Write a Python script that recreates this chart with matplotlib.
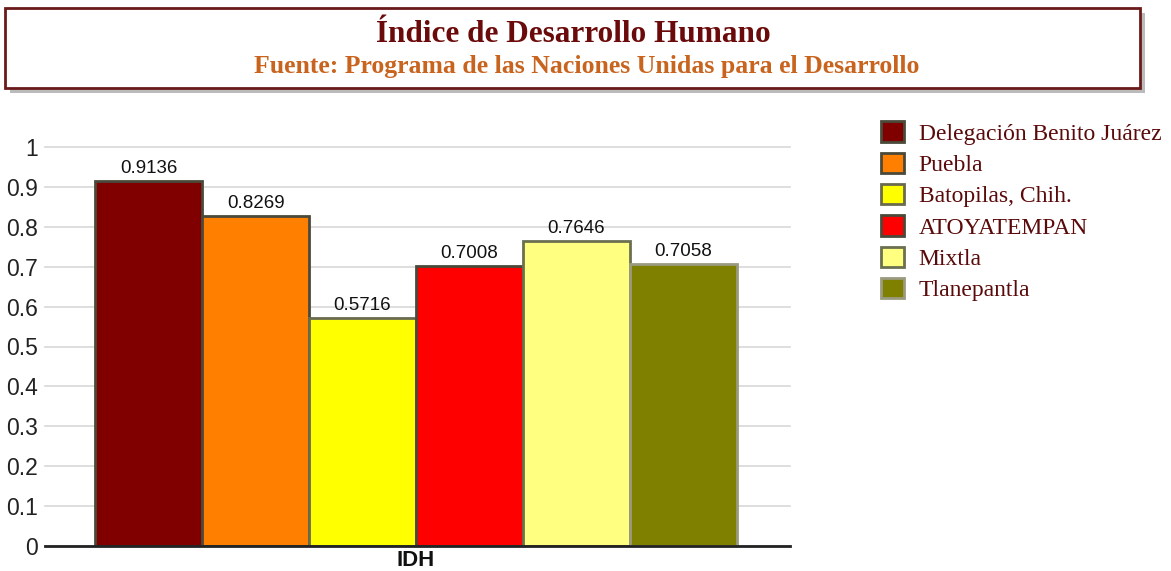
import matplotlib
matplotlib.use("Agg")
import matplotlib.pyplot as plt
from matplotlib.patches import Rectangle, Patch

# data
places = ["Delegación Benito Juárez", "Puebla", "Batopilas, Chih.",
          "ATOYATEMPAN", "Mixtla", "Tlanepantla"]
idh = [0.9136, 0.8269, 0.5716, 0.7008, 0.7646, 0.7058]
colors = ["#800000", "#FF8000", "#FFFF00", "#FF0000", "#FFFF80", "#808000"]
edges = ["#4a4a3a", "#4a4a3a", "#6a6a50", "#4a4a3a", "#6a7050", "#9a9a80"]
yticks = [0, 0.1, 0.2, 0.3, 0.4, 0.5, 0.6, 0.7, 0.8, 0.9, 1]
ytick_labels = ["0", "0.1", "0.2", "0.3", "0.4", "0.5", "0.6", "0.7", "0.8", "0.9", "1"]

W, H = 1171, 571
fig = plt.figure(figsize=(W / 100, H / 100), dpi=100)
fig.patch.set_facecolor("white")

def fx(px):
    return px / W

def fy(py):
    return 1 - py / H

# title box with shadow
fig.patches.append(Rectangle((fx(10), fy(93)), fx(1140) - fx(5), fy(8) - fy(88),
                             transform=fig.transFigure, facecolor="#bbbbbb",
                             edgecolor="none", zorder=0))
fig.patches.append(Rectangle((fx(5), fy(88)), fx(1140) - fx(5), fy(8) - fy(88),
                             transform=fig.transFigure, facecolor="white",
                             edgecolor="#6b1a1a", linewidth=2, zorder=1))
fig.text(fx(573), fy(35), "Índice de Desarrollo Humano", ha="center", va="center",
         family="Liberation Serif", fontweight="bold", fontsize=22.5, color="#6b0a0a")
fig.text(fx(587), fy(66), "Fuente: Programa de las Naciones Unidas para el Desarrollo",
         ha="center", va="center", family="Liberation Serif", fontweight="bold",
         fontsize=18.5, color="#c8641e")

ax = fig.add_axes([fx(45), fy(546), fx(790) - fx(45), fy(147) - fy(546)])
x = list(range(len(idh)))
bars = ax.bar(x, idh, width=1.0, color=colors, edgecolor=edges, linewidth=2, zorder=3)
for xi, v in zip(x, idh):
    ax.text(xi, v + 0.01, f"{v:.4f}", ha="center", va="bottom",
            family="Liberation Sans", fontsize=13.5, color="#111111", zorder=4)

ax.set_xlim(-0.97, 6.0)
ax.set_ylim(0, 1)
ax.set_yticks(yticks)
ax.set_yticklabels(ytick_labels, family="Liberation Sans", fontsize=16.5, color="#222222")
ax.tick_params(axis="y", length=0, pad=5)
ax.set_xticks([])
ax.yaxis.grid(True, color="#d8d8d8", linewidth=1.2, zorder=0)
for g in ax.get_ygridlines():
    g.set_clip_on(False)
for s in ["top", "right", "left"]:
    ax.spines[s].set_visible(False)
ax.spines["bottom"].set_linewidth(2)
ax.spines["bottom"].set_color("#222222")
ax.spines["bottom"].set_zorder(5)
ax.text(2.5, -0.01, "IDH", ha="center", va="top", family="Liberation Sans",
        fontweight="bold", fontsize=16, color="#111111")

handles = [Patch(facecolor=c, edgecolor=e, linewidth=2) for c, e in zip(colors, edges)]
leg = fig.legend(handles, places, loc="upper left", bbox_to_anchor=(fx(872), fy(112)),
                 frameon=False, prop={"family": "Liberation Serif", "size": 17},
                 handlelength=0.95, handleheight=0.95, labelspacing=0.34,
                 handletextpad=0.62, borderaxespad=0)
for t in leg.get_texts():
    t.set_color("#5a0a0a")

fig.savefig("out.png", dpi=100)
